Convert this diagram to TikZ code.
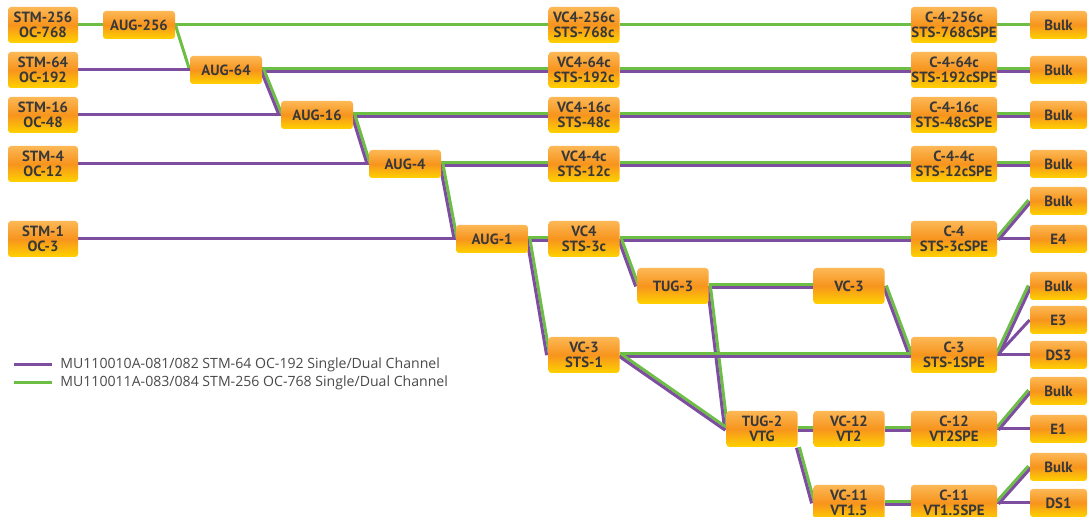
\documentclass[tikz,border=0pt]{standalone}
\usepackage{fontspec}
\setmainfont{PT Sans}
\newfontfamily\legendfont{Open Sans}
\usetikzlibrary{calc}
\definecolor{lgreen}{HTML}{6DBE45}
\definecolor{lpurple}{HTML}{7D4E9F}
\definecolor{boxtop}{HTML}{FCB855}
\definecolor{boxmid}{HTML}{F7941D}
\definecolor{boxbot}{HTML}{FFD200}
\definecolor{txt}{HTML}{383838}
\definecolor{legtxt}{HTML}{4A4A4A}
\pgfdeclarelayer{bg}
\pgfdeclarelayer{lines}
\pgfsetlayers{bg,lines,main}
\newcommand\gline[2]{\draw[gl] (#1) -- (#2);}
\newcommand\pline[2]{\draw[pl] (#1) -- (#2);}
\newcommand\bline[2]{%
  \draw[gl] ($(#1)!0.75pt!90:(#2)$) -- ($(#2)!0.75pt!-90:(#1)$);
  \draw[pl] ($(#1)!0.75pt!-90:(#2)$) -- ($(#2)!0.75pt!90:(#1)$);}
\begin{document}
\begin{tikzpicture}[x=0.5pt,y=-0.5pt,
  box/.style={rectangle, rounded corners=1.5pt, top color=boxtop, bottom color=boxbot, middle color=boxmid,
    inner sep=0pt, align=center, text=txt, font=\bfseries\fontsize{7.4}{7.6}\selectfont},
  stmbox/.style={box, minimum width=35pt, minimum height=18pt},
  augbox/.style={box, minimum width=36pt, minimum height=14pt},
  vcbox/.style={box, minimum width=35.5pt, minimum height=18pt},
  cbox/.style={box, minimum width=43pt, minimum height=18pt},
  endbox/.style={box, minimum width=28.5pt, minimum height=14pt},
  gl/.style={draw=lgreen, line width=1.5pt},
  pl/.style={draw=lpurple, line width=1.5pt},
  legend/.style={anchor=west, inner sep=0pt, text=legtxt, font=\legendfont\fontsize{7.05}{8}\selectfont}]
\begin{pgfonlayer}{bg}
\fill[white] (0,0) rectangle (1088,517);
\end{pgfonlayer}
\useasboundingbox (0,0) rectangle (1088,517);
% column 1
\node[stmbox] (stm256) at (43,25) {STM-256\\OC-768};
\node[stmbox] (stm64) at (43,70) {STM-64\\OC-192};
\node[stmbox] (stm16) at (43,115) {STM-16\\OC-48};
\node[stmbox] (stm4) at (43,164) {STM-4\\OC-12};
\node[stmbox] (stm1) at (43,239) {STM-1\\OC-3};
% AUG
\node[augbox] (aug256) at (139,25) {AUG-256};
\node[augbox] (aug64) at (226,70) {AUG-64};
\node[augbox] (aug16) at (317,115) {AUG-16};
\node[augbox] (aug4) at (405,164) {AUG-4};
\node[augbox] (aug1) at (492,239) {AUG-1};
% VC
\node[vcbox] (vc4a) at (584,25) {VC4-256c\\STS-768c};
\node[vcbox] (vc4b) at (584,70) {VC4-64c\\STS-192c};
\node[vcbox] (vc4c) at (584,115) {VC4-16c\\STS-48c};
\node[vcbox] (vc4d) at (584,164) {VC4-4c\\STS-12c};
\node[vcbox] (vc4) at (584,239) {VC4\\STS-3c};
\node[vcbox] (vc3s) at (584,355) {VC-3\\STS-1};
\node[vcbox] (tug3) at (673,286) {TUG-3};
\node[vcbox] (vc3) at (849,286) {VC-3};
\node[vcbox] (tug2) at (762,429) {TUG-2\\VTG};
\node[vcbox] (vc12) at (849,429) {VC-12\\VT2};
\node[vcbox] (vc11) at (849,503) {VC-11\\VT1.5};
% C
\node[cbox] (c4a) at (954,25) {C-4-256c\\STS-768cSPE};
\node[cbox] (c4b) at (954,70) {C-4-64c\\STS-192cSPE};
\node[cbox] (c4c) at (954,115) {C-4-16c\\STS-48cSPE};
\node[cbox] (c4d) at (954,164) {C-4-4c\\STS-12cSPE};
\node[cbox] (c4) at (954,239) {C-4\\STS-3cSPE};
\node[cbox] (c3) at (954,355) {C-3\\STS-1SPE};
\node[cbox] (c12) at (954,429) {C-12\\VT2SPE};
\node[cbox] (c11) at (954,503) {C-11\\VT1.5SPE};
% end
\node[endbox] (b1) at (1058.5,25) {Bulk};
\node[endbox] (b2) at (1058.5,70) {Bulk};
\node[endbox] (b3) at (1058.5,115) {Bulk};
\node[endbox] (b4) at (1058.5,164) {Bulk};
\node[endbox] (b5) at (1058.5,201) {Bulk};
\node[endbox] (e4) at (1058.5,239) {E4};
\node[endbox] (b6) at (1058.5,286) {Bulk};
\node[endbox] (e3) at (1058.5,320) {E3};
\node[endbox] (ds3) at (1058.5,355) {DS3};
\node[endbox] (b7) at (1058.5,391) {Bulk};
\node[endbox] (e1) at (1058.5,429) {E1};
\node[endbox] (b8) at (1058.5,467) {Bulk};
\node[endbox] (ds1) at (1058.5,503) {DS1};
% legend
\coordinate (lp1) at (14,365); \coordinate (lp2) at (52,365);
\coordinate (lg1) at (14,383); \coordinate (lg2) at (52,383);
\node[legend] (leg1) at (60,365) {MU110010A-081/082 STM-64 OC-192 Single/Dual Channel};
\node[legend] (leg2) at (60,383) {MU110011A-083/084 STM-256 OC-768 Single/Dual Channel};
\begin{pgfonlayer}{lines}
\pline{lp1}{lp2}
\gline{lg1}{lg2}
% green only
\gline{stm256.east}{aug256.west}
\gline{aug256.east}{vc4a.west}
\gline{vc4a.east}{c4a.west}
\gline{c4a.east}{b1.west}
\gline{aug256.east}{aug64.west}
% purple only
\pline{stm64.east}{aug64.west}
\pline{stm16.east}{aug16.west}
\pline{stm4.east}{aug4.west}
\pline{stm1.east}{aug1.west}
\pline{c4.east}{e4.west}
\pline{c3.east}{e3.west}
\pline{c3.east}{ds3.west}
\pline{c12.east}{e1.west}
\pline{c11.east}{ds1.west}
% both
\bline{aug64.east}{vc4b.west}
\bline{vc4b.east}{c4b.west}
\bline{c4b.east}{b2.west}
\bline{aug64.east}{aug16.west}
\bline{aug16.east}{vc4c.west}
\bline{vc4c.east}{c4c.west}
\bline{c4c.east}{b3.west}
\bline{aug16.east}{aug4.west}
\bline{aug4.east}{vc4d.west}
\bline{vc4d.east}{c4d.west}
\bline{c4d.east}{b4.west}
\bline{aug4.east}{aug1.west}
\bline{aug1.east}{vc4.west}
\bline{vc4.east}{c4.west}
\bline{c4.east}{b5.west}
\bline{aug1.east}{vc3s.west}
\bline{vc4.east}{tug3.west}
\bline{tug3.east}{vc3.west}
\bline{tug3.east}{tug2.west}
\bline{vc3.east}{c3.west}
\bline{vc3s.east}{c3.west}
\bline{vc3s.east}{tug2.west}
\bline{c3.east}{b6.west}
\bline{tug2.east}{vc12.west}
\bline{vc12.east}{c12.west}
\bline{c12.east}{b7.west}
\bline{tug2.south east}{vc11.west}
\bline{vc11.east}{c11.west}
\bline{c11.east}{b8.west}
\end{pgfonlayer}
\end{tikzpicture}
\end{document}
